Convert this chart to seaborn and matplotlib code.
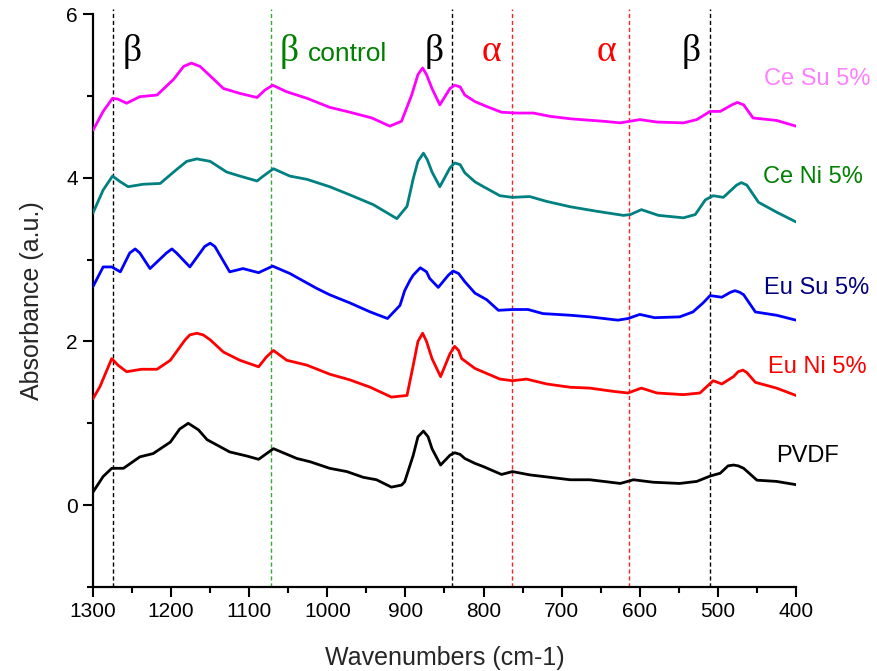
import numpy as np
import pandas as pd
import matplotlib
matplotlib.use("Agg")
import matplotlib.pyplot as plt
import seaborn as sns

# FTIR spectra (stacked with vertical offsets), wavenumber in cm-1
pvdf_w = [1300, 1287, 1276, 1261, 1240, 1223, 1201, 1189, 1178, 1165, 1154, 1125, 1103, 1088,
          1069, 1039, 1022, 997, 975, 954, 937, 918, 905, 901, 890, 884, 877, 871, 866, 855,
          843, 837, 830, 824, 811, 800, 777, 763, 741, 715, 689, 664, 642, 625, 608, 583,
          549, 527, 510, 497, 487, 480, 474, 467, 450, 425, 400]
pvdf_a = [0.16, 0.35, 0.45, 0.45, 0.59, 0.63, 0.77, 0.93, 1.00, 0.92, 0.80, 0.65, 0.60, 0.56,
          0.69, 0.57, 0.53, 0.45, 0.41, 0.34, 0.31, 0.22, 0.245, 0.285, 0.61, 0.835, 0.905,
          0.835, 0.69, 0.49, 0.61, 0.64, 0.62, 0.57, 0.51, 0.47, 0.375, 0.41, 0.37, 0.34,
          0.31, 0.31, 0.285, 0.265, 0.31, 0.28, 0.265, 0.29, 0.355, 0.39, 0.48, 0.49, 0.48,
          0.45, 0.305, 0.29, 0.25]

euni_w = [1300, 1291, 1276, 1268, 1257, 1238, 1218, 1201, 1182, 1176, 1167, 1159, 1150, 1133,
          1112, 1088, 1078, 1069, 1052, 1026, 997, 971, 945, 918, 898, 890, 884, 878, 873,
          866, 855, 843, 837, 832, 828, 811, 779, 763, 745, 719, 689, 664, 634, 615, 598,
          578, 544, 523, 506, 495, 480, 474, 468, 463, 452, 425, 400]
euni_a = [1.30, 1.45, 1.79, 1.71, 1.63, 1.66, 1.66, 1.77, 2.02, 2.08, 2.10, 2.08, 2.02, 1.87,
          1.77, 1.69, 1.81, 1.89, 1.77, 1.71, 1.60, 1.53, 1.44, 1.32, 1.34, 1.71, 2.00, 2.10,
          2.00, 1.79, 1.57, 1.85, 1.94, 1.89, 1.79, 1.67, 1.54, 1.52, 1.54, 1.48, 1.44, 1.43,
          1.39, 1.37, 1.43, 1.37, 1.35, 1.37, 1.52, 1.48, 1.57, 1.63, 1.65, 1.62, 1.50, 1.43,
          1.34]

eusu_w = [1300, 1287, 1276, 1265, 1253, 1246, 1240, 1227, 1206, 1199, 1193, 1176, 1157, 1150,
          1144, 1125, 1108, 1088, 1070, 1048, 1014, 997, 971, 945, 923, 907, 901, 894, 890,
          881, 873, 869, 858, 845, 839, 832, 824, 811, 796, 781, 763, 743, 724, 689, 664,
          628, 615, 600, 581, 549, 532, 519, 510, 495, 484, 478, 472, 467, 452, 425, 400]
eusu_a = [2.67, 2.91, 2.91, 2.85, 3.08, 3.13, 3.08, 2.89, 3.08, 3.13, 3.08, 2.91, 3.16, 3.20,
          3.16, 2.85, 2.89, 2.84, 2.92, 2.83, 2.65, 2.57, 2.47, 2.36, 2.28, 2.44, 2.62, 2.75,
          2.81, 2.90, 2.85, 2.77, 2.66, 2.81, 2.86, 2.83, 2.73, 2.59, 2.51, 2.38, 2.39, 2.39,
          2.34, 2.32, 2.30, 2.26, 2.28, 2.33, 2.29, 2.30, 2.36, 2.47, 2.56, 2.54, 2.60, 2.62,
          2.60, 2.57, 2.36, 2.32, 2.26]

ceni_w = [1300, 1287, 1275, 1265, 1255, 1236, 1214, 1193, 1180, 1167, 1150, 1129, 1112, 1090,
          1082, 1069, 1048, 1026, 997, 971, 941, 911, 898, 890, 884, 877, 872, 866, 856, 843,
          837, 830, 824, 811, 800, 779, 763, 741, 719, 689, 655, 621, 612, 598, 576, 544,
          529, 516, 506, 493, 476, 470, 463, 448, 425, 400]
ceni_a = [3.57, 3.85, 4.02, 3.95, 3.89, 3.92, 3.93, 4.10, 4.20, 4.23, 4.20, 4.07, 4.02, 3.96,
          4.02, 4.11, 4.02, 3.98, 3.89, 3.79, 3.67, 3.50, 3.65, 3.99, 4.20, 4.30, 4.22, 4.07,
          3.89, 4.12, 4.18, 4.16, 4.06, 3.95, 3.89, 3.78, 3.76, 3.77, 3.71, 3.645, 3.59, 3.54,
          3.55, 3.61, 3.54, 3.51, 3.55, 3.73, 3.78, 3.76, 3.91, 3.94, 3.91, 3.70, 3.58, 3.46]

cesu_w = [1300, 1287, 1275, 1268, 1257, 1240, 1218, 1197, 1184, 1174, 1163, 1154, 1133, 1112,
          1090, 1080, 1070, 1052, 1026, 997, 971, 943, 920, 905, 892, 884, 878, 873, 866, 856,
          843, 837, 830, 824, 811, 796, 777, 758, 736, 715, 689, 647, 625, 600, 578, 544,
          527, 510, 497, 482, 475, 467, 455, 425, 400]
cesu_a = [4.58, 4.81, 4.97, 4.96, 4.91, 4.99, 5.01, 5.20, 5.36, 5.40, 5.36, 5.28, 5.09, 5.03,
          4.98, 5.07, 5.13, 5.05, 4.97, 4.86, 4.80, 4.73, 4.63, 4.69, 5.01, 5.26, 5.34, 5.26,
          5.09, 4.89, 5.09, 5.13, 5.11, 5.01, 4.93, 4.87, 4.80, 4.79, 4.79, 4.75, 4.72, 4.69,
          4.67, 4.71, 4.68, 4.67, 4.71, 4.81, 4.81, 4.89, 4.92, 4.89, 4.73, 4.70, 4.63]

sample_names = ["PVDF", "Eu Ni 5%", "Eu Su 5%", "Ce Ni 5%", "Ce Su 5%"]
line_colors = ["#000000", "#FF0000", "#0000FF", "#008080", "#FF00FF"]
label_colors = ["#000000", "#FF0000", "#000080", "#008000", "#FF80FF"]
label_x = [426, 436, 441, 442, 441]
label_y = [0.60, 1.69, 2.65, 4.01, 5.20]

# Band markers: position, colour, symbol
band_pos = [1275, 1072, 840, 763, 614, 510]
band_col = ["#000000", "#33AA33", "#000000", "#FF2020", "#FF2020", "#000000"]
greek_sym = ["β", "β", "β", "α", "α", "β"]
greek_x = [1262, 1061, 876, 802, 655, 547]
greek_col = ["#000000", "#008000", "#000000", "#FF0000", "#FF0000", "#000000"]

x_ticks = [1300, 1200, 1100, 1000, 900, 800, 700, 600, 500, 400]
y_ticks = [0, 2, 4, 6]

frames = []
for name, w, a in zip(sample_names,
                      [pvdf_w, euni_w, eusu_w, ceni_w, cesu_w],
                      [pvdf_a, euni_a, eusu_a, ceni_a, cesu_a]):
    frames.append(pd.DataFrame({"wavenumber": w, "absorbance": a, "sample": name}))
df = pd.concat(frames, ignore_index=True)

sns.set_style("ticks")
plt.rcParams["font.family"] = ["Liberation Sans", "DejaVu Sans"]

fig = plt.figure(figsize=(8.78, 6.71), dpi=100)
ax = fig.add_axes([93 / 878, 1 - 587 / 671, (796 - 93) / 878, (587 - 14) / 671])

for xb, cb in zip(band_pos, band_col):
    ax.plot([xb, xb], [-1, 6.06], color=cb, lw=1.0, ls=(0, (3, 2)), clip_on=False, zorder=1)

sns.lineplot(data=df, x="wavenumber", y="absorbance", hue="sample",
             hue_order=sample_names, palette=line_colors, sort=False,
             estimator=None, legend=False, lw=2.0, ax=ax, zorder=3,
             solid_joinstyle="round", solid_capstyle="round")

ax.set_xlim(1300, 400)
ax.set_ylim(-1, 6)
ax.set_xticks(x_ticks)
ax.set_xticks(np.arange(1250, 400, -100), minor=True)
ax.set_yticks(y_ticks)
ax.set_yticks([-1, 1, 3, 5], minor=True)
ax.tick_params(axis="both", which="major", direction="out", length=7, width=1.5,
               labelsize=15, color="black", labelcolor="black", pad=4)
ax.tick_params(axis="both", which="minor", direction="out", length=4, width=1.5,
               color="black")
for side in ["left", "bottom"]:
    ax.spines[side].set_linewidth(1.6)
    ax.spines[side].set_color("black")
sns.despine(ax=ax)

ax.set_xlabel("Wavenumbers (cm-1)", fontsize=18, labelpad=18)
ax.set_ylabel("Absorbance (a.u.)", fontsize=18, labelpad=16)

for name, c, lx, ly in zip(sample_names, label_colors, label_x, label_y):
    ax.text(lx, ly, name, color=c, fontsize=17, ha="left", va="center", clip_on=False)

for s, gx, gc in zip(greek_sym, greek_x, greek_col):
    ax.text(gx, 5.43, s, color=gc, fontsize=27, ha="left", va="baseline",
            family=["Liberation Serif", "DejaVu Serif"])
ax.text(1025, 5.43, "control", color="#008000", fontsize=19, ha="left", va="baseline")

fig.savefig("out.png", dpi=100)
